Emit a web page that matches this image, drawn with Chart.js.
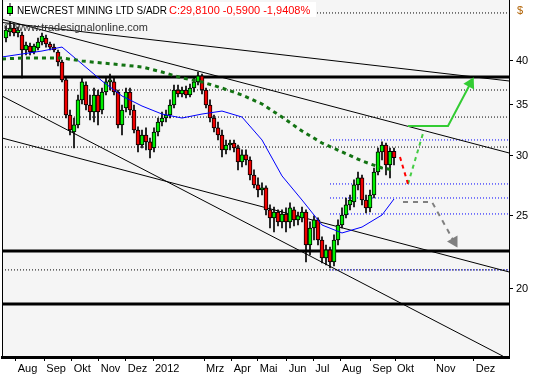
<!DOCTYPE html>
<html>
<head>
<meta charset="utf-8">
<script src="https://cdn.jsdelivr.net/npm/chart.js@4.4.0/dist/chart.umd.min.js"></script>
<style>
  html, body { margin: 0; padding: 0; background: #ffffff; }
</style>
</head>
<body>
<canvas id="graficaVelas" width="533" height="380"></canvas>
<script>
// velas (una posicion del eje x por vela, de ago 2011 a sep 2012)
const apertura = [
  42.90, 43.69, 44.22, 43.55, 43.29, 41.36, 41.86, 41.11, 41.61, 42.38,
  42.90, 42.12, 41.73, 41.11, 39.88, 37.76, 33.94, 32.23, 32.93, 35.53,
  37.18, 34.99, 34.25, 36.07, 34.46, 36.40, 37.53, 37.53, 36.40, 32.93,
  34.67, 36.40, 34.46, 32.43, 30.98, 31.94, 31.27, 30.70, 32.23, 33.23,
  33.63, 33.94, 34.99, 36.62, 36.18, 36.62, 36.07, 36.84, 37.53, 38.22,
  36.62, 34.99, 33.63, 32.63, 31.94, 30.52, 30.98, 31.17, 30.70, 29.42,
  30.06, 29.60, 28.28, 27.44, 27.02, 27.19, 25.43, 24.82, 25.27, 24.52,
  25.12, 24.52, 25.43, 24.67, 24.82, 25.27, 22.86, 24.07, 24.67, 23.21,
  21.98, 22.52, 21.71, 23.21, 24.29, 25.04, 25.82, 26.05, 27.44, 28.03,
  26.21, 25.59, 26.61, 28.54, 30.34, 30.98, 29.16, 30.40
];
const maximo = [
  44.49, 45.03, 44.76, 44.36, 43.69, 42.38, 42.25, 42.12, 42.90, 43.55,
  43.29, 42.38, 42.12, 41.36, 40.12, 37.99, 34.46, 33.63, 36.07, 37.99,
  37.53, 36.07, 36.84, 36.62, 36.84, 37.99, 38.45, 37.99, 36.62, 34.99,
  36.84, 36.84, 34.99, 32.73, 32.43, 32.63, 31.65, 32.63, 33.63, 34.25,
  34.46, 35.53, 37.18, 37.18, 36.95, 37.07, 37.30, 37.99, 38.68, 38.45,
  36.84, 35.53, 33.94, 33.23, 32.43, 31.46, 31.46, 31.46, 30.98, 30.52,
  30.52, 29.88, 28.72, 28.03, 27.61, 27.36, 25.82, 25.66, 25.43, 25.43,
  25.59, 25.98, 25.66, 25.27, 25.66, 25.43, 24.52, 24.97, 24.82, 23.43,
  22.86, 22.72, 23.57, 24.67, 25.59, 26.37, 26.61, 27.86, 28.54, 28.28,
  26.61, 27.02, 28.89, 30.70, 31.27, 31.17, 30.70, 30.70
];
const minimo = [
  42.38, 43.16, 43.16, 43.03, 37.99, 40.74, 40.74, 40.86, 41.36, 41.99,
  41.73, 41.36, 41.11, 39.40, 37.53, 33.63, 31.94, 30.70, 32.63, 35.10,
  34.46, 33.43, 33.23, 32.93, 34.04, 36.07, 36.62, 36.07, 32.63, 31.94,
  34.25, 33.94, 32.14, 30.34, 30.70, 30.52, 29.78, 30.34, 31.84, 32.83,
  33.23, 33.63, 34.67, 35.85, 35.85, 35.74, 35.85, 36.40, 37.18, 36.18,
  34.67, 33.23, 32.23, 31.46, 29.88, 30.15, 30.52, 30.34, 28.72, 28.98,
  29.16, 27.86, 27.19, 26.45, 26.61, 25.04, 24.07, 23.78, 24.22, 24.07,
  23.78, 24.07, 24.22, 24.29, 24.52, 21.71, 22.18, 23.21, 22.86, 21.64,
  21.51, 21.32, 21.45, 22.86, 24.07, 24.82, 25.43, 25.66, 27.02, 25.82,
  25.20, 25.27, 26.37, 28.28, 29.60, 28.28, 28.03, 29.16
];
const cierre = [
  43.95, 44.22, 43.55, 43.95, 41.36, 41.99, 41.11, 41.86, 42.38, 43.16,
  42.12, 41.73, 41.36, 39.88, 37.76, 33.94, 32.43, 32.93, 35.53, 37.53,
  34.99, 34.25, 36.07, 34.25, 36.40, 37.53, 37.76, 36.40, 32.93, 34.46,
  36.40, 34.46, 32.43, 30.98, 31.94, 31.27, 30.52, 32.23, 33.23, 33.63,
  33.94, 34.99, 36.62, 36.18, 36.62, 36.07, 36.84, 37.53, 38.22, 36.62,
  34.99, 33.63, 32.63, 31.94, 30.52, 30.98, 31.17, 30.70, 29.42, 30.06,
  29.60, 28.28, 27.44, 27.02, 27.19, 25.43, 24.82, 25.27, 24.52, 25.12,
  24.52, 25.59, 24.67, 24.97, 25.27, 22.86, 24.07, 24.67, 23.21, 21.98,
  22.52, 21.71, 23.21, 24.29, 25.04, 25.82, 26.21, 27.44, 28.03, 26.21,
  25.59, 26.61, 28.54, 30.34, 30.98, 29.16, 30.40, 29.81
];

// medias moviles, leidas cada 5 velas
const mediaX = [0, 5, 10, 15, 20, 25, 30, 35, 40, 45, 50, 55, 60, 65, 70, 75, 80, 85, 90, 95, 98];
const mediaAzul = [40.49, 40.86, 41.23, 41.73, 39.64, 37.64, 35.96, 34.88, 34.04, 33.63, 34.04,
  34.35, 33.73, 31.46, 28.20, 26.21, 24.29, 23.71, 24.14, 25.04, 26.29];
const mediaVerde = [40.24, 40.37, 40.37, 40.37, 40.00, 39.76, 39.52, 39.28, 38.68, 37.99, 37.53,
  36.84, 36.07, 35.10, 33.73, 32.33, 31.17, 30.34, 29.51, 28.89, 28.72];

// lineas horizontales
const nivelesGruesos = [38.10, 22.45, 19.11];
const nivelesPunteados = [46.29, 36.62, 33.73, 30.79, 21.19];
const nivelesFibo = [31.46, 27.52, 26.37, 25.12, 21.19];

// lineas de tendencia [x0, y0, x1, y1]
const tendencias = [
  [0, 44.97, 126.75, 37.64],
  [0, 45.39, 126.75, 30.24],
  [0, 31.65, 126.75, 21.06],
  [0, 35.96, 125.25, 16.30]
];

// escenarios
const flechaRojaX = [99.5, 101.5];
const flechaRojaY = [29.87, 27.52];
const subidaX = [101.5, 105.5];
const subidaY = [27.52, 32.43];
const flechaVerdeX = [101.5, 111.5, 117.1];
const flechaVerdeY = [32.83, 32.83, 37.35];
const flechaGrisX = [100.25, 107.5, 113.0];
const flechaGrisY = [26.05, 26.05, 23.10];

// eje
const etiquetasMes = ["Aug", "Sep", "Okt", "Nov", "Dez", "2012", "Mrz", "Apr", "Mai", "Jun", "Jul", "Aug", "Sep", "Okt", "Nov", "Dez"];
const posicionesMes = [3.43, 10.58, 17.43, 24.18, 30.93, 37.75, 50.5, 57.43, 63.93, 71.18, 77.83, 84.5, 92.08, 98.25, 108, 117.93];
const valoresEje = [20, 25, 30, 35, 40];

const fuente = "'Liberation Sans', Arial, sans-serif";
const xMax = 126.75;

function puntos(xs, ys) {
  return xs.map((x, i) => ({ x: x, y: ys[i] }));
}

function lineaHorizontal(nivel, desde, color, ancho, guiones, orden) {
  return {
    type: "line",
    data: [{ x: desde, y: nivel }, { x: xMax, y: nivel }],
    borderColor: color,
    borderWidth: ancho,
    borderDash: guiones,
    pointRadius: 0,
    pointHoverRadius: 0,
    fill: false,
    order: orden
  };
}

let datasets = [];

nivelesPunteados.forEach((n) => datasets.push(lineaHorizontal(n, 0, "#000000", 1, [1, 2], 60)));
nivelesFibo.forEach((n) => datasets.push(lineaHorizontal(n, 82, "#0000ff", 1, [1, 2], 59)));
nivelesGruesos.forEach((n) => datasets.push(lineaHorizontal(n, 0, "#000000", 3, [], 55)));

tendencias.forEach((t) => {
  datasets.push({
    type: "line",
    data: [{ x: t[0], y: t[1] }, { x: t[2], y: t[3] }],
    borderColor: "#000000",
    borderWidth: 1,
    pointRadius: 0,
    pointHoverRadius: 0,
    fill: false,
    order: 50
  });
});

// mechas
datasets.push({
  type: "bar",
  data: minimo.map((v, i) => ({ x: i + 1, y: [v, maximo[i]] })),
  backgroundColor: "#000000",
  borderWidth: 0,
  barThickness: 1,
  grouped: false,
  order: 8
});
// cuerpos
datasets.push({
  type: "bar",
  data: apertura.map((v, i) => ({ x: i + 1, y: [v, cierre[i]] })),
  backgroundColor: apertura.map((v, i) => (cierre[i] >= v ? "#00f000" : "#f00000")),
  borderColor: "#000000",
  borderWidth: 1,
  borderSkipped: false,
  barThickness: 4,
  grouped: false,
  order: 7
});

datasets.push({
  type: "line",
  data: puntos(mediaX, mediaAzul),
  borderColor: "#0000ff",
  borderWidth: 1,
  pointRadius: 0,
  pointHoverRadius: 0,
  fill: false,
  order: 4
});
datasets.push({
  type: "line",
  data: puntos(mediaX, mediaVerde),
  borderColor: "#137313",
  borderWidth: 3,
  borderDash: [4, 4],
  pointRadius: 0,
  pointHoverRadius: 0,
  fill: false,
  order: 3
});

datasets.push({
  type: "line",
  data: puntos(flechaRojaX, flechaRojaY),
  borderColor: "#ff0000",
  borderWidth: 2,
  borderDash: [4, 4],
  pointRadius: 0,
  pointHoverRadius: 0,
  fill: false,
  order: 1
});
datasets.push({
  type: "line",
  data: puntos(subidaX, subidaY),
  borderColor: "#44cc44",
  borderWidth: 2,
  borderDash: [4, 4],
  pointRadius: 0,
  pointHoverRadius: 0,
  fill: false,
  order: 1
});
datasets.push({
  type: "line",
  data: puntos(flechaVerdeX, flechaVerdeY),
  borderColor: "#33cc33",
  borderWidth: 2,
  pointStyle: "triangle",
  pointRadius: [0, 0, 5],
  pointHoverRadius: 0,
  pointRotation: [0, 0, 28],
  pointBackgroundColor: "#33cc33",
  pointBorderColor: "#33cc33",
  fill: false,
  order: 0
});
datasets.push({
  type: "line",
  data: puntos(flechaGrisX, flechaGrisY),
  borderColor: "#808080",
  borderWidth: 2,
  borderDash: [5, 5],
  pointStyle: "triangle",
  pointRadius: [0, 0, 5],
  pointHoverRadius: 0,
  pointRotation: [0, 0, 150],
  pointBackgroundColor: "#808080",
  pointBorderColor: "#808080",
  fill: false,
  order: 0
});

const decoracion = {
  id: "decoracion",
  beforeDraw(chart) {
    const c = chart.ctx;
    const a = chart.chartArea;
    c.save();
    c.fillStyle = "#ffffff";
    c.fillRect(0, 0, chart.width, chart.height);
    c.fillStyle = "#f5f5f5";
    c.fillRect(a.left, a.top, a.right - a.left, a.bottom - a.top);
    c.restore();
  },
  afterDraw(chart) {
    const c = chart.ctx;
    const a = chart.chartArea;
    c.save();
    c.strokeStyle = "#000000";
    c.lineWidth = 1;
    c.beginPath();
    c.moveTo(a.left + 0.5, a.top);
    c.lineTo(a.left + 0.5, a.bottom);
    c.stroke();

    // cabecera
    c.fillStyle = "#ffffff";
    c.fillRect(4, 2, 312, 15);
    c.fillStyle = "#00ee00";
    c.strokeStyle = "#000000";
    c.fillRect(7.5, 6.5, 5, 7);
    c.strokeRect(7.5, 6.5, 5, 7);
    c.beginPath();
    c.moveTo(10, 3);
    c.lineTo(10, 6.5);
    c.moveTo(10, 13.5);
    c.lineTo(10, 16);
    c.stroke();
    c.font = "11px " + fuente;
    c.textBaseline = "alphabetic";
    c.fillStyle = "#000000";
    c.fillText("NEWCREST MINING LTD S/ADR", 17, 14, 150);
    c.fillStyle = "#ff0000";
    c.fillText("C:29,8100 -0,5900 -1,9408%", 169, 14, 146);
    c.fillStyle = "#333333";
    c.fillText("\u00a9 www.tradesignalonline.com", 4, 31, 144);

    c.fillStyle = "#b06000";
    c.fillText("$", 517, 14);
    c.restore();
  }
};

const ctx = document.getElementById("graficaVelas");
new Chart(ctx, {
  type: "bar",
  data: { datasets: datasets },
  options: {
    responsive: false,
    animation: false,
    devicePixelRatio: 1,
    layout: { autoPadding: false, padding: { left: 2, top: 0, right: 0, bottom: 0 } },
    plugins: { legend: { display: false }, tooltip: { enabled: false } },
    scales: {
      x: {
        type: "linear",
        min: 0,
        max: xMax,
        offset: false,
        grid: { display: true, drawOnChartArea: false, tickLength: 4, color: "#000000", offset: false },
        border: { display: true, color: "#000000", width: 3 },
        ticks: {
          autoSkip: false,
          maxRotation: 0,
          align: "start",
          labelOffset: 2,
          padding: 1,
          color: "#000000",
          font: { family: fuente, size: 11 },
          callback: (v, i) => etiquetasMes[i]
        },
        afterBuildTicks: (s) => { s.ticks = posicionesMes.map((v) => ({ value: v })); },
        afterFit: (s) => { s.height = 23; s.paddingLeft = 0; s.paddingRight = 0; }
      },
      y: {
        type: "logarithmic",
        position: "right",
        min: 16.26,
        max: 48.15,
        grid: { display: true, drawOnChartArea: false, tickLength: 4, color: "#000000" },
        border: { display: true, color: "#000000", width: 1 },
        ticks: {
          padding: 3,
          color: "#000000",
          font: { family: fuente, size: 11 },
          callback: (v) => String(v)
        },
        afterBuildTicks: (s) => { s.ticks = valoresEje.map((v) => ({ value: v })); },
        afterFit: (s) => { s.width = 24; s.paddingTop = 0; s.paddingBottom = 0; }
      }
    }
  },
  plugins: [decoracion]
});
</script>
</body>
</html>
